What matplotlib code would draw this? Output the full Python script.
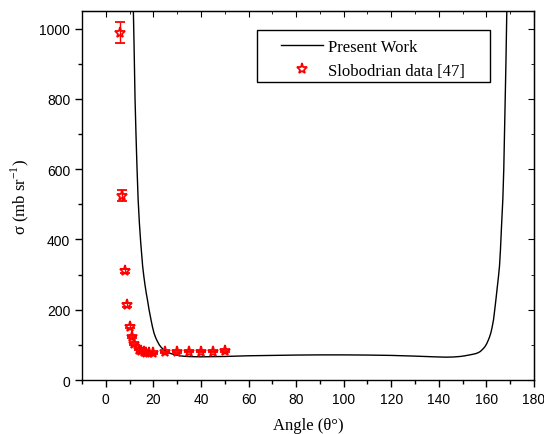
import matplotlib
matplotlib.use('Agg')
import matplotlib.pyplot as plt
from matplotlib.lines import Line2D
from matplotlib.patches import Rectangle
from matplotlib.ticker import MultipleLocator

# calculated cross section (Present Work)
theory_angle = [11.6, 11.9, 12.3, 12.7, 13.1, 13.6, 14.1, 14.7, 15.5, 16.0, 16.5,
                17.0, 17.5, 18.2, 19.0, 19.6, 20.3, 21.0, 21.7, 22.5, 23.3, 24.2,
                25.2, 26.3, 27.5, 29.0, 31.0, 33.0, 36.0, 40.0, 50.0, 60.0, 70.0,
                80.0, 90.0, 100.0, 110.0, 120.0, 130.0, 138.0, 143.0, 146.0, 149.0,
                151.0, 153.0, 154.5, 155.7, 156.6, 157.4, 158.2, 158.9, 159.5,
                160.1, 160.7, 161.3, 161.9, 162.4, 163.0, 163.5, 164.0, 164.5,
                165.0, 165.5, 165.9, 166.3, 166.9, 167.3, 167.6, 167.9, 168.2, 168.6]
theory_sigma = [1050, 950, 800, 700, 610, 514, 450, 390, 324, 295, 270,
                248, 229, 200, 172, 152, 133, 120, 110, 100, 93, 87,
                82, 78, 75, 72, 69, 67.5, 66.5, 66, 67, 69, 70,
                71, 71.5, 71.5, 71, 70, 68, 66, 65, 65.5, 67,
                69, 71.5, 73.5, 75.5, 78, 81, 86, 91, 96,
                103, 112, 122, 135, 150, 172, 200, 229, 260,
                290, 324, 370, 430, 514, 600, 700, 800, 900, 1060]

# Slobodrian measurements
exp_angle = [6, 7, 8, 9, 10, 11, 12, 14, 15, 16, 17, 18, 20, 25, 30, 35, 40, 45, 50]
exp_sigma = [988, 524, 311, 213, 152, 122, 103, 86, 82, 79, 77, 77, 76, 79, 80, 81, 81, 81, 82]
exp_err = [30, 16, 6, 5, 4, 3, 3, 2, 2, 2, 2, 2, 2, 2, 2, 2, 2, 2, 2]

fig = plt.figure(figsize=(5.44, 4.35), dpi=100)
ax = fig.add_axes([0.1507, 0.1241, 0.8309, 0.8483])

ax.plot(theory_angle, theory_sigma, color='black', lw=1.0)
ax.errorbar(exp_angle, exp_sigma, yerr=exp_err, fmt='*', color='red', ms=8,
            mfc='none', mew=1.3, elinewidth=1.0, capsize=3.5, capthick=1.0)

ax.set_xlim(-10, 180)
ax.set_ylim(0, 1050)
ax.xaxis.set_major_locator(MultipleLocator(20))
ax.xaxis.set_minor_locator(MultipleLocator(10))
ax.yaxis.set_major_locator(MultipleLocator(200))
ax.yaxis.set_minor_locator(MultipleLocator(100))
ax.tick_params(which='major', direction='out', length=5, width=1, labelsize=10)
ax.tick_params(which='minor', direction='out', length=3, width=1)
for lab in ax.get_xticklabels() + ax.get_yticklabels():
    lab.set_fontfamily('Liberation Sans')
for sp in ax.spines.values():
    sp.set_linewidth(1.0)

# mirror ticks on the top and right, pointing in
top = ax.secondary_xaxis('top')
top.xaxis.set_major_locator(MultipleLocator(20))
top.xaxis.set_minor_locator(MultipleLocator(10))
top.tick_params(which='major', direction='in', length=4, labeltop=False)
top.tick_params(which='minor', direction='in', length=2.5)
right = ax.secondary_yaxis('right')
right.yaxis.set_major_locator(MultipleLocator(200))
right.yaxis.set_minor_locator(MultipleLocator(100))
right.tick_params(which='major', direction='in', length=4, labelright=False)
right.tick_params(which='minor', direction='in', length=2.5)

ax.set_xlabel('Angle (θ°)', fontfamily='Liberation Serif', fontsize=12, labelpad=8)
ax.set_ylabel('σ (mb sr$^{\\mathregular{-1}}$)', fontfamily='Liberation Serif',
              fontsize=12, labelpad=6)

# legend entries without frame, box drawn separately (wider side margins)
handles = [Line2D([], [], color='black', lw=1.0),
           Line2D([], [], ls='none', marker='*', color='red', ms=8, mfc='none', mew=1.3)]
ax.legend(handles, ['Present Work', 'Slobodrian data [47]'],
          loc='upper left', bbox_to_anchor=(0.440, 0.924), frameon=False,
          borderpad=0, borderaxespad=0,
          prop={'family': 'Liberation Serif', 'size': 12},
          handlelength=2.5, handletextpad=0.3, labelspacing=0.45)
ax.add_patch(Rectangle((0.387, 0.8068), 0.516, 0.1417, transform=ax.transAxes,
                       fill=False, edgecolor='black', lw=1.0, zorder=5))

fig.savefig('out.png', dpi=100)
